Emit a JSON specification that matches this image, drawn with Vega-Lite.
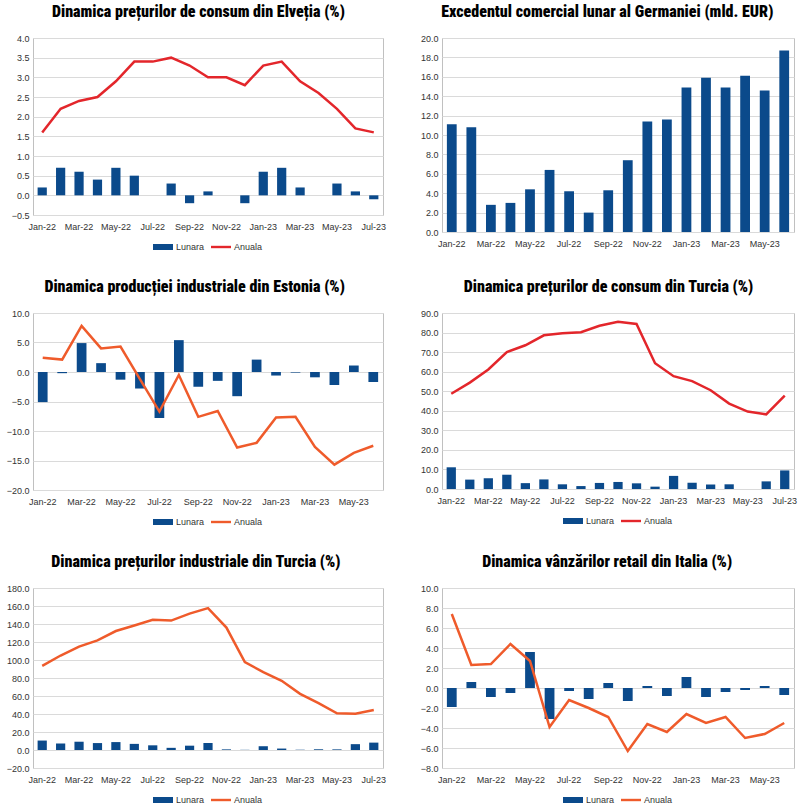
{
  "$schema": "https://vega.github.io/schema/vega-lite/v6.json",
  "background": "white",
  "padding": {"left": 5, "top": 3, "right": 6, "bottom": 2},
  "datasets": {
    "ch": [
      {"m": "Jan-22", "Lunara": 0.2, "Anuala": 1.6},
      {"m": "Feb-22", "Lunara": 0.7, "Anuala": 2.2},
      {"m": "Mar-22", "Lunara": 0.6, "Anuala": 2.4},
      {"m": "Apr-22", "Lunara": 0.4, "Anuala": 2.5},
      {"m": "May-22", "Lunara": 0.7, "Anuala": 2.9},
      {"m": "Jun-22", "Lunara": 0.5, "Anuala": 3.4},
      {"m": "Jul-22", "Lunara": 0.0, "Anuala": 3.4},
      {"m": "Aug-22", "Lunara": 0.3, "Anuala": 3.5},
      {"m": "Sep-22", "Lunara": -0.2, "Anuala": 3.3},
      {"m": "Oct-22", "Lunara": 0.1, "Anuala": 3.0},
      {"m": "Nov-22", "Lunara": 0.0, "Anuala": 3.0},
      {"m": "Dec-22", "Lunara": -0.2, "Anuala": 2.8},
      {"m": "Jan-23", "Lunara": 0.6, "Anuala": 3.3},
      {"m": "Feb-23", "Lunara": 0.7, "Anuala": 3.4},
      {"m": "Mar-23", "Lunara": 0.2, "Anuala": 2.9},
      {"m": "Apr-23", "Lunara": 0.0, "Anuala": 2.6},
      {"m": "May-23", "Lunara": 0.3, "Anuala": 2.2},
      {"m": "Jun-23", "Lunara": 0.1, "Anuala": 1.7},
      {"m": "Jul-23", "Lunara": -0.1, "Anuala": 1.6}
    ],
    "de": [
      {"m": "Jan-22", "v": 11.1},
      {"m": "Feb-22", "v": 10.8},
      {"m": "Mar-22", "v": 2.8},
      {"m": "Apr-22", "v": 3.0},
      {"m": "May-22", "v": 4.4},
      {"m": "Jun-22", "v": 6.4},
      {"m": "Jul-22", "v": 4.2},
      {"m": "Aug-22", "v": 2.0},
      {"m": "Sep-22", "v": 4.3},
      {"m": "Oct-22", "v": 7.4},
      {"m": "Nov-22", "v": 11.4},
      {"m": "Dec-22", "v": 11.6},
      {"m": "Jan-23", "v": 14.9},
      {"m": "Feb-23", "v": 15.9},
      {"m": "Mar-23", "v": 14.9},
      {"m": "Apr-23", "v": 16.1},
      {"m": "May-23", "v": 14.6},
      {"m": "Jun-23", "v": 18.7}
    ],
    "ee": [
      {"m": "Jan-22", "Lunara": -5.1, "Anuala": 2.4},
      {"m": "Feb-22", "Lunara": -0.2, "Anuala": 2.1},
      {"m": "Mar-22", "Lunara": 4.9, "Anuala": 7.8},
      {"m": "Apr-22", "Lunara": 1.5, "Anuala": 4.0},
      {"m": "May-22", "Lunara": -1.3, "Anuala": 4.3},
      {"m": "Jun-22", "Lunara": -2.8, "Anuala": -1.2},
      {"m": "Jul-22", "Lunara": -7.8, "Anuala": -6.7},
      {"m": "Aug-22", "Lunara": 5.4, "Anuala": -0.5},
      {"m": "Sep-22", "Lunara": -2.5, "Anuala": -7.6},
      {"m": "Oct-22", "Lunara": -1.5, "Anuala": -6.6},
      {"m": "Nov-22", "Lunara": -4.1, "Anuala": -12.8},
      {"m": "Dec-22", "Lunara": 2.1, "Anuala": -12.0},
      {"m": "Jan-23", "Lunara": -0.6, "Anuala": -7.7},
      {"m": "Feb-23", "Lunara": -0.1, "Anuala": -7.6},
      {"m": "Mar-23", "Lunara": -0.9, "Anuala": -12.7},
      {"m": "Apr-23", "Lunara": -2.2, "Anuala": -15.7},
      {"m": "May-23", "Lunara": 1.1, "Anuala": -13.7},
      {"m": "Jun-23", "Lunara": -1.7, "Anuala": -12.5}
    ],
    "tr": [
      {"m": "Jan-22", "Lunara": 11.1, "Anuala": 48.7},
      {"m": "Feb-22", "Lunara": 4.8, "Anuala": 54.4},
      {"m": "Mar-22", "Lunara": 5.5, "Anuala": 61.1},
      {"m": "Apr-22", "Lunara": 7.3, "Anuala": 70.0},
      {"m": "May-22", "Lunara": 3.0, "Anuala": 73.5},
      {"m": "Jun-22", "Lunara": 4.9, "Anuala": 78.6},
      {"m": "Jul-22", "Lunara": 2.4, "Anuala": 79.6},
      {"m": "Aug-22", "Lunara": 1.5, "Anuala": 80.2},
      {"m": "Sep-22", "Lunara": 3.1, "Anuala": 83.5},
      {"m": "Oct-22", "Lunara": 3.6, "Anuala": 85.5},
      {"m": "Nov-22", "Lunara": 2.9, "Anuala": 84.4},
      {"m": "Dec-22", "Lunara": 1.2, "Anuala": 64.3},
      {"m": "Jan-23", "Lunara": 6.7, "Anuala": 57.7},
      {"m": "Feb-23", "Lunara": 3.2, "Anuala": 55.2},
      {"m": "Mar-23", "Lunara": 2.3, "Anuala": 50.5},
      {"m": "Apr-23", "Lunara": 2.4, "Anuala": 43.7},
      {"m": "May-23", "Lunara": 0.0, "Anuala": 39.6},
      {"m": "Jun-23", "Lunara": 3.9, "Anuala": 38.2},
      {"m": "Jul-23", "Lunara": 9.5, "Anuala": 47.8}
    ],
    "trp": [
      {"m": "Jan-22", "Lunara": 10.5, "Anuala": 93.5},
      {"m": "Feb-22", "Lunara": 7.2, "Anuala": 105.0},
      {"m": "Mar-22", "Lunara": 9.2, "Anuala": 114.9},
      {"m": "Apr-22", "Lunara": 7.7, "Anuala": 121.8},
      {"m": "May-22", "Lunara": 8.8, "Anuala": 132.2},
      {"m": "Jun-22", "Lunara": 6.8, "Anuala": 138.3},
      {"m": "Jul-22", "Lunara": 5.2, "Anuala": 144.6},
      {"m": "Aug-22", "Lunara": 2.4, "Anuala": 143.8},
      {"m": "Sep-22", "Lunara": 4.8, "Anuala": 151.5},
      {"m": "Oct-22", "Lunara": 7.8, "Anuala": 157.7},
      {"m": "Nov-22", "Lunara": 0.7, "Anuala": 136.0},
      {"m": "Dec-22", "Lunara": 0.2, "Anuala": 97.7},
      {"m": "Jan-23", "Lunara": 4.2, "Anuala": 86.5},
      {"m": "Feb-23", "Lunara": 1.6, "Anuala": 76.9},
      {"m": "Mar-23", "Lunara": 0.3, "Anuala": 62.4},
      {"m": "Apr-23", "Lunara": 0.8, "Anuala": 52.1},
      {"m": "May-23", "Lunara": 0.7, "Anuala": 40.8},
      {"m": "Jun-23", "Lunara": 6.5, "Anuala": 40.4},
      {"m": "Jul-23", "Lunara": 8.2, "Anuala": 44.5}
    ],
    "it": [
      {"m": "Jan-22", "Lunara": -1.9, "Anuala": 7.4},
      {"m": "Feb-22", "Lunara": 0.6, "Anuala": 2.3},
      {"m": "Mar-22", "Lunara": -0.9, "Anuala": 2.4},
      {"m": "Apr-22", "Lunara": -0.5, "Anuala": 4.4},
      {"m": "May-22", "Lunara": 3.6, "Anuala": 2.7},
      {"m": "Jun-22", "Lunara": -3.1, "Anuala": -3.9},
      {"m": "Jul-22", "Lunara": -0.3, "Anuala": -1.2},
      {"m": "Aug-22", "Lunara": -1.1, "Anuala": -2.0},
      {"m": "Sep-22", "Lunara": 0.5, "Anuala": -2.9},
      {"m": "Oct-22", "Lunara": -1.3, "Anuala": -6.3},
      {"m": "Nov-22", "Lunara": 0.2, "Anuala": -3.6},
      {"m": "Dec-22", "Lunara": -0.8, "Anuala": -4.4},
      {"m": "Jan-23", "Lunara": 1.1, "Anuala": -2.6},
      {"m": "Feb-23", "Lunara": -0.9, "Anuala": -3.5},
      {"m": "Mar-23", "Lunara": -0.4, "Anuala": -2.9},
      {"m": "Apr-23", "Lunara": -0.2, "Anuala": -5.0},
      {"m": "May-23", "Lunara": 0.2, "Anuala": -4.6},
      {"m": "Jun-23", "Lunara": -0.7, "Anuala": -3.5}
    ]
  },
  "columns": 2,
  "spacing": {"row": 25, "column": 32},
  "resolve": {"scale": {"color": "independent"}, "legend": {"color": "independent"}},
  "concat": [
    {
      "title": "Dinamica prețurilor de consum din Elveția (%)",
      "width": 350, "height": 177,
      "data": {"name": "ch"},
      "encoding": {"x": {"field": "m", "type": "ordinal", "sort": null, "title": null,
        "axis": {"values": ["Jan-22","Mar-22","May-22","Jul-22","Sep-22","Nov-22","Jan-23","Mar-23","May-23","Jul-23"], "labelOverlap": false}}},
      "layer": [
        {"mark": {"type": "bar"}, "encoding": {
          "y": {"field": "Lunara", "type": "quantitative", "title": null, "scale": {"domain": [-0.5, 4], "nice": false, "zero": false},
            "axis": {"values": [-0.5,0,0.5,1,1.5,2,2.5,3,3.5,4], "format": ".1f", "labelOverlap": false}},
          "color": {"datum": "Lunara", "type": "nominal", "scale": {"domain": ["Lunara","Anuala"], "range": ["#0b4a8b","#e3262b"]},
            "legend": {"encode": {"symbols": {"update": {
              "fill": {"signal": "datum.value === 'Lunara' ? '#0b4a8b' : '#e3262b'"},
              "shape": {"signal": "datum.value === 'Lunara' ? 'M-1,-0.3H1V0.3H-1Z' : 'M-1,-0.12H1V0.12H-1Z'"}}}}}}}},
        {"mark": {"type": "line", "strokeWidth": 2.5}, "encoding": {
          "y": {"field": "Anuala", "type": "quantitative", "title": null,
            "axis": {"values": [-0.5,0,0.5,1,1.5,2,2.5,3,3.5,4], "format": ".1f", "labelOverlap": false}},
          "color": {"datum": "Anuala", "type": "nominal"}}}
      ]
    },
    {
      "title": "Excedentul comercial lunar al Germaniei (mld. EUR)",
      "width": 352, "height": 194,
      "data": {"name": "de"},
      "mark": {"type": "bar", "color": "#0b4a8b"},
      "encoding": {
        "x": {"field": "m", "type": "ordinal", "sort": null, "title": null,
          "axis": {"values": ["Jan-22","Mar-22","May-22","Jul-22","Sep-22","Nov-22","Jan-23","Mar-23","May-23"], "labelOverlap": false}},
        "y": {"field": "v", "type": "quantitative", "title": null, "scale": {"domain": [0, 20], "nice": false},
          "axis": {"values": [0,2,4,6,8,10,12,14,16,18,20], "format": ".1f", "labelOverlap": false}}
      }
    },
    {
      "title": "Dinamica producției industriale din Estonia (%)",
      "width": 350, "height": 177,
      "data": {"name": "ee"},
      "encoding": {"x": {"field": "m", "type": "ordinal", "sort": null, "title": null,
        "axis": {"values": ["Jan-22","Mar-22","May-22","Jul-22","Sep-22","Nov-22","Jan-23","Mar-23","May-23"], "labelOverlap": false}}},
      "layer": [
        {"mark": {"type": "bar"}, "encoding": {
          "y": {"field": "Lunara", "type": "quantitative", "title": null, "scale": {"domain": [-20, 10], "nice": false, "zero": false},
            "axis": {"values": [-20,-15,-10,-5,0,5,10], "format": ".1f", "labelOverlap": false}},
          "color": {"datum": "Lunara", "type": "nominal", "scale": {"domain": ["Lunara","Anuala"], "range": ["#0b4a8b","#ef5b2b"]},
            "legend": {"encode": {"symbols": {"update": {
              "fill": {"signal": "datum.value === 'Lunara' ? '#0b4a8b' : '#ef5b2b'"},
              "shape": {"signal": "datum.value === 'Lunara' ? 'M-1,-0.3H1V0.3H-1Z' : 'M-1,-0.12H1V0.12H-1Z'"}}}}}}}},
        {"mark": {"type": "line", "strokeWidth": 2.5}, "encoding": {
          "y": {"field": "Anuala", "type": "quantitative", "title": null,
            "axis": {"values": [-20,-15,-10,-5,0,5,10], "format": ".1f", "labelOverlap": false}},
          "color": {"datum": "Anuala", "type": "nominal"}}}
      ]
    },
    {
      "title": "Dinamica prețurilor de consum din Turcia (%)",
      "width": 352, "height": 176,
      "data": {"name": "tr"},
      "encoding": {"x": {"field": "m", "type": "ordinal", "sort": null, "title": null,
        "axis": {"values": ["Jan-22","Mar-22","May-22","Jul-22","Sep-22","Nov-22","Jan-23","Mar-23","May-23","Jul-23"], "labelOverlap": false}}},
      "layer": [
        {"mark": {"type": "bar"}, "encoding": {
          "y": {"field": "Lunara", "type": "quantitative", "title": null, "scale": {"domain": [0, 90], "nice": false},
            "axis": {"values": [0,10,20,30,40,50,60,70,80,90], "format": ".1f", "labelOverlap": false}},
          "color": {"datum": "Lunara", "type": "nominal", "scale": {"domain": ["Lunara","Anuala"], "range": ["#0b4a8b","#e3262b"]},
            "legend": {"encode": {"symbols": {"update": {
              "fill": {"signal": "datum.value === 'Lunara' ? '#0b4a8b' : '#e3262b'"},
              "shape": {"signal": "datum.value === 'Lunara' ? 'M-1,-0.3H1V0.3H-1Z' : 'M-1,-0.12H1V0.12H-1Z'"}}}}}}}},
        {"mark": {"type": "line", "strokeWidth": 2.5}, "encoding": {
          "y": {"field": "Anuala", "type": "quantitative", "title": null,
            "axis": {"values": [0,10,20,30,40,50,60,70,80,90], "format": ".1f", "labelOverlap": false}},
          "color": {"datum": "Anuala", "type": "nominal"}}}
      ]
    },
    {
      "title": "Dinamica prețurilor industriale din Turcia (%)",
      "width": 350, "height": 180,
      "data": {"name": "trp"},
      "encoding": {"x": {"field": "m", "type": "ordinal", "sort": null, "title": null,
        "axis": {"values": ["Jan-22","Mar-22","May-22","Jul-22","Sep-22","Nov-22","Jan-23","Mar-23","May-23","Jul-23"], "labelOverlap": false}}},
      "layer": [
        {"mark": {"type": "bar"}, "encoding": {
          "y": {"field": "Lunara", "type": "quantitative", "title": null, "scale": {"domain": [-20, 180], "nice": false, "zero": false},
            "axis": {"values": [-20,0,20,40,60,80,100,120,140,160,180], "format": ".1f", "labelOverlap": false}},
          "color": {"datum": "Lunara", "type": "nominal", "scale": {"domain": ["Lunara","Anuala"], "range": ["#0b4a8b","#ef5b2b"]},
            "legend": {"encode": {"symbols": {"update": {
              "fill": {"signal": "datum.value === 'Lunara' ? '#0b4a8b' : '#ef5b2b'"},
              "shape": {"signal": "datum.value === 'Lunara' ? 'M-1,-0.3H1V0.3H-1Z' : 'M-1,-0.12H1V0.12H-1Z'"}}}}}}}},
        {"mark": {"type": "line", "strokeWidth": 2.5}, "encoding": {
          "y": {"field": "Anuala", "type": "quantitative", "title": null,
            "axis": {"values": [-20,0,20,40,60,80,100,120,140,160,180], "format": ".1f", "labelOverlap": false}},
          "color": {"datum": "Anuala", "type": "nominal"}}}
      ]
    },
    {
      "title": "Dinamica vânzărilor retail din Italia (%)",
      "width": 352, "height": 180,
      "data": {"name": "it"},
      "encoding": {"x": {"field": "m", "type": "ordinal", "sort": null, "title": null,
        "axis": {"values": ["Jan-22","Mar-22","May-22","Jul-22","Sep-22","Nov-22","Jan-23","Mar-23","May-23"], "labelOverlap": false}}},
      "layer": [
        {"mark": {"type": "bar"}, "encoding": {
          "y": {"field": "Lunara", "type": "quantitative", "title": null, "scale": {"domain": [-8, 10], "nice": false, "zero": false},
            "axis": {"values": [-8,-6,-4,-2,0,2,4,6,8,10], "format": ".1f", "labelOverlap": false}},
          "color": {"datum": "Lunara", "type": "nominal", "scale": {"domain": ["Lunara","Anuala"], "range": ["#0b4a8b","#ef5b2b"]},
            "legend": {"encode": {"symbols": {"update": {
              "fill": {"signal": "datum.value === 'Lunara' ? '#0b4a8b' : '#ef5b2b'"},
              "shape": {"signal": "datum.value === 'Lunara' ? 'M-1,-0.3H1V0.3H-1Z' : 'M-1,-0.12H1V0.12H-1Z'"}}}}}}}},
        {"mark": {"type": "line", "strokeWidth": 2.5}, "encoding": {
          "y": {"field": "Anuala", "type": "quantitative", "title": null,
            "axis": {"values": [-8,-6,-4,-2,0,2,4,6,8,10], "format": ".1f", "labelOverlap": false}},
          "color": {"datum": "Anuala", "type": "nominal"}}}
      ]
    }
  ],
  "config": {
    "view": {"stroke": "#c0c0c0"},
    "font": "Liberation Sans",
    "scale": {"bandPaddingInner": 0.5, "bandPaddingOuter": 0.25},
    "title": {"font": "Roboto Condensed", "fontSize": 16, "fontWeight": 900, "color": "#000000", "offset": 14, "frame": "bounds", "anchor": "middle"},
    "axis": {"labelFont": "Liberation Sans", "labelFontSize": 9, "labelColor": "#333333", "domain": false, "ticks": false, "gridColor": "#dadada", "labelOverlap": false},
    "axisX": {"grid": false, "labelAngle": 0, "labelPadding": 7},
    "axisY": {"grid": true, "labelPadding": 4},
    "legend": {"orient": "bottom", "direction": "horizontal", "title": null, "symbolType": "M-1,-0.3H1V0.3H-1Z", "symbolSize": 400, "symbolStrokeWidth": 0, "labelFont": "Liberation Sans", "labelFontSize": 9, "labelColor": "#333333", "columnPadding": 6, "labelOffset": 3, "offset": 6, "layout": {"bottom": {"anchor": "middle"}}}
  }
}
